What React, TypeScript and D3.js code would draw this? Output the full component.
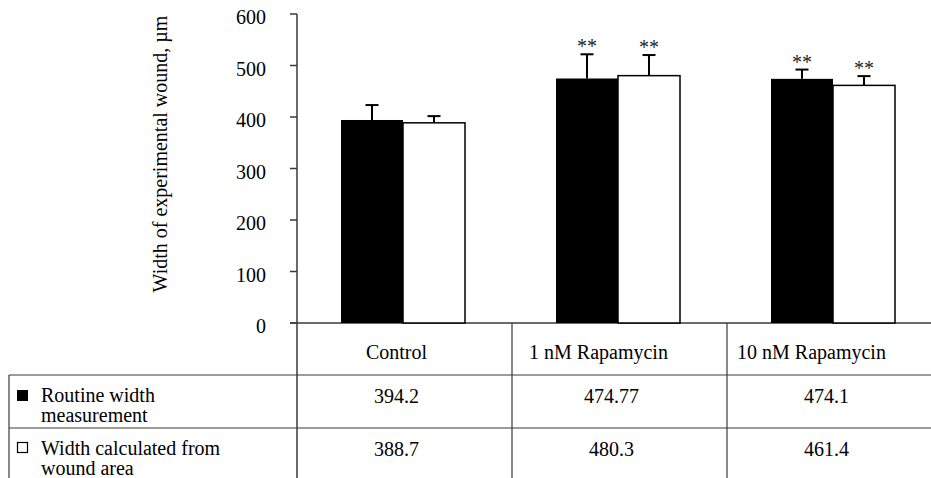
import React from 'react';
import * as d3 from 'd3';

const categories = ['Control', '1 nM Rapamycin', '10 nM Rapamycin'];
const routine = [394.2, 474.77, 474.1];
const calculated = [388.7, 480.3, 461.4];
const routineErr = [29, 47, 18];
const calculatedErr = [13, 40, 18];
const routineSig = ['', '**', '**'];
const calculatedSig = ['', '**', '**'];
const routineLabel = ['Routine width', 'measurement'];
const calculatedLabel = ['Width calculated from', 'wound area'];
const yTicks = [0, 100, 200, 300, 400, 500, 600];

const W = 931, H = 478;
const font = '"Liberation Serif", "Times New Roman", serif';
const line = '#3a3a3a';

export default function App() {
  const y = d3.scaleLinear().domain([0, 600]).range([323, 14]);
  const x = d3.scaleBand().domain(categories).range([297, 942]);
  const sub = d3.scaleBand().domain(['routine', 'calculated']).range([44, 168]);

  const rowTop = 375, rowMid = 428;
  // label shifts left of the cell centre, as in the source layout
  const labelShift = [-8, -21, -23];

  const series = [
    { key: 'routine', values: routine, err: routineErr, sig: routineSig, fill: '#000' },
    { key: 'calculated', values: calculated, err: calculatedErr, sig: calculatedSig, fill: '#fff' },
  ];

  return (
    <svg width={W} height={H} style={{ position: 'absolute', left: 0, top: 0, fontFamily: font }}
      fontSize={20}>
      <rect width={W} height={H} fill="#fff" />
      <text transform={`translate(167,154) rotate(-90)`} textAnchor="middle">
        Width of experimental wound, µm
      </text>

      {/* y axis */}
      <line x1={297} x2={297} y1={y(600)} y2={H} stroke={line} strokeWidth={1.5} />
      {yTicks.map(t => (
        <g key={t}>
          <line x1={290} x2={297} y1={y(t)} y2={y(t)} stroke={line} strokeWidth={1.5} />
          <text x={266} y={y(t) + 3} textAnchor="end" dominantBaseline="central">{t}</text>
        </g>
      ))}
      <line x1={290} x2={W} y1={y(0)} y2={y(0)} stroke={line} strokeWidth={1.5} />

      {/* bars */}
      {series.map(s => categories.map((c, i) => {
        const bx = (x(c) as number) + (sub(s.key) as number);
        const bw = sub.bandwidth();
        const cx = bx + bw / 2;
        const top = y(s.values[i]);
        const et = y(s.values[i] + s.err[i]);
        return (
          <g key={s.key + c}>
            <line x1={cx} x2={cx} y1={top} y2={et} stroke="#000" strokeWidth={2} />
            <line x1={cx - 6.5} x2={cx + 6.5} y1={et} y2={et} stroke="#000" strokeWidth={2} />
            <rect x={bx} y={top} width={bw} height={y(0) - top} fill={s.fill}
              stroke="#000" strokeWidth={s.fill === '#000' ? 0 : 1.5} />
            {s.sig[i] && (
              <text x={cx} y={et - 1} textAnchor="middle" fill="#222">{s.sig[i]}</text>
            )}
          </g>
        );
      }))}

      {/* data table */}
      <line x1={9} x2={W} y1={rowTop} y2={rowTop} stroke={line} strokeWidth={1.2} />
      <line x1={9} x2={W} y1={rowMid} y2={rowMid} stroke={line} strokeWidth={1.2} />
      <line x1={9} x2={9} y1={rowTop} y2={H} stroke={line} strokeWidth={1.2} />
      {categories.map((c, i) => {
        const x0 = x(c) as number;
        const mid = x0 + x.bandwidth() / 2;
        return (
          <g key={c}>
            {i > 0 && <line x1={x0} x2={x0} y1={y(0)} y2={H} stroke={line} strokeWidth={1.2} />}
            <text x={mid + labelShift[i]} y={359} textAnchor="middle">{c}</text>
            <text x={mid - 8} y={403} textAnchor="middle">{routine[i]}</text>
            <text x={mid - 8} y={456} textAnchor="middle">{calculated[i]}</text>
          </g>
        );
      })}

      <rect x={17} y={390} width={11} height={11} fill="#000" />
      <rect x={17.5} y={442.5} width={10} height={10} fill="#fff" stroke="#000" strokeWidth={1.2} />
      {routineLabel.map((t, k) => (
        <text key={t} x={41} y={402 + k * 20}>{t}</text>
      ))}
      {calculatedLabel.map((t, k) => (
        <text key={t} x={41} y={455 + k * 20}>{t}</text>
      ))}
    </svg>
  );
}
